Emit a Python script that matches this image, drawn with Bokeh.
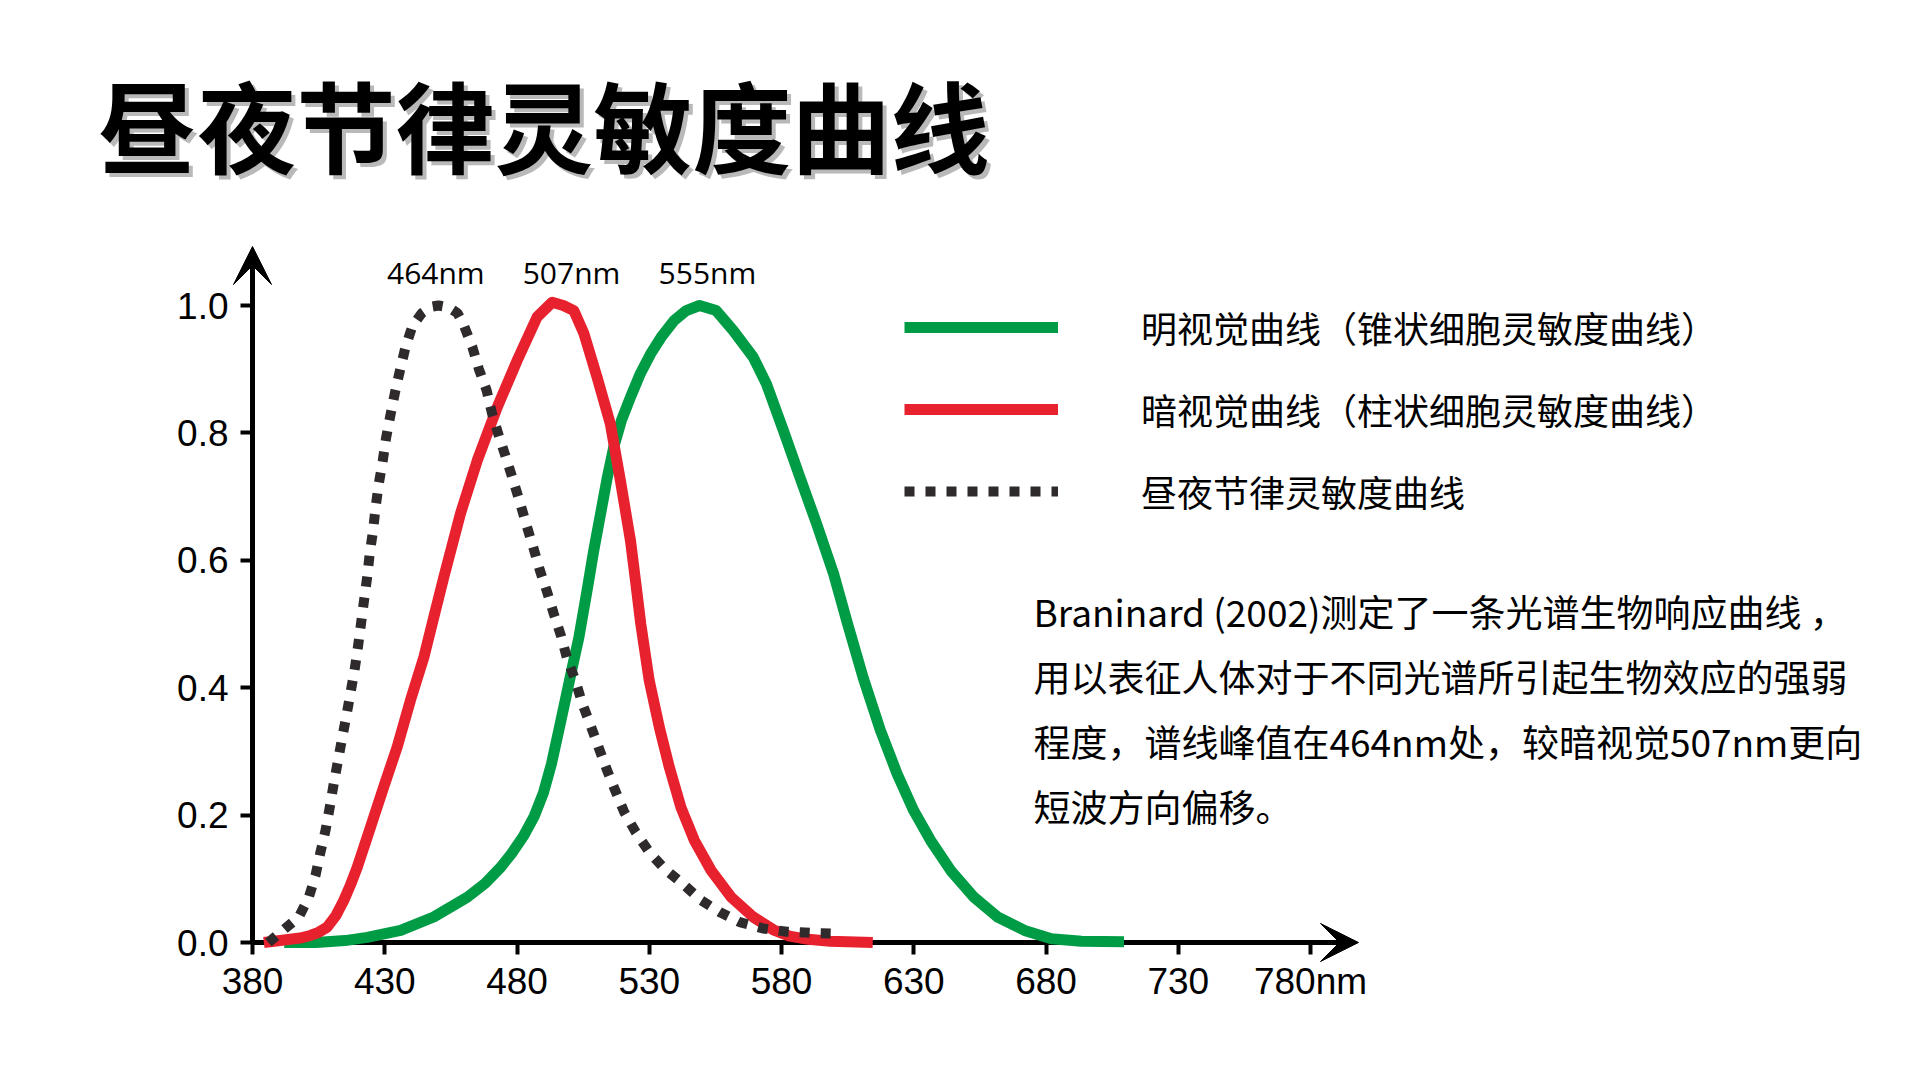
from bokeh.plotting import figure
from bokeh.models import Range1d, FixedTicker, Label, Legend, LegendItem, Arrow, VeeHead
from bokeh.embed import file_html
from bokeh.resources import INLINE

# ---------------- data ----------------
title_text = "昼夜节律灵敏度曲线"

wavelength_ticks = [380, 430, 480, 530, 580, 630, 680, 730, 780]
wavelength_tick_labels = ["380", "430", "480", "530", "580", "630", "680", "730", "780nm"]
sensitivity_ticks = [0.0, 0.2, 0.4, 0.6, 0.8, 1.0]
sensitivity_tick_labels = ["0.0", "0.2", "0.4", "0.6", "0.8", "1.0"]

# photopic (cone) curve - green
photopic_x = [392, 404, 415, 423.4, 436, 448.5, 461.2, 468, 473.8, 478, 482.6, 486.5, 490,
              493, 495.8, 498.5, 500.8, 503.4, 506.5, 509, 511.6, 514, 516.6, 519.5, 522.9,
              526.5, 530.5, 534.8, 539.3, 544, 549, 555.3, 561.7, 569.3, 574.3, 580.7, 587,
              593.3, 599.7, 605, 611, 617.4, 623.7, 630, 636.4, 644, 652.8, 661.7, 671.9,
              682, 693.4, 709.5]
photopic_y = [0.0, 0.0, 0.003, 0.008, 0.019, 0.04, 0.071, 0.093, 0.118, 0.14, 0.168, 0.198,
              0.235, 0.28, 0.333, 0.385, 0.43, 0.479, 0.553, 0.615, 0.673, 0.727, 0.778, 0.82,
              0.856, 0.892, 0.924, 0.952, 0.976, 0.992, 1.0, 0.992, 0.961, 0.919, 0.877, 0.804,
              0.73, 0.657, 0.579, 0.5, 0.414, 0.333, 0.265, 0.207, 0.16, 0.113, 0.071, 0.04,
              0.019, 0.006, 0.002, 0.001]

# scotopic (rod) curve - red
scotopic_x = [384.3, 392, 398, 401.9, 405, 408.2, 411.5, 414.5, 417, 419.6, 424.6, 429.6,
              434.7, 439.7, 444.8, 448.5, 452.3, 458.6, 465, 472.5, 480.1, 487.6, 493.3,
              497.5, 501.5, 505.3, 510.3, 515.3, 519.1, 522.9, 524.8, 526.8, 530, 533.8,
              537.6, 542, 547.1, 553.4, 561, 569.3, 576.9, 583, 590, 598.4, 614.5]
scotopic_y = [0.0, 0.004, 0.007, 0.011, 0.016, 0.024, 0.042, 0.066, 0.09, 0.118, 0.181, 0.244,
              0.307, 0.38, 0.448, 0.51, 0.573, 0.673, 0.757, 0.84, 0.914, 0.982, 1.005, 1.0,
              0.992, 0.956, 0.887, 0.814, 0.725, 0.631, 0.568, 0.5, 0.411, 0.338, 0.275, 0.212,
              0.16, 0.113, 0.071, 0.04, 0.02, 0.01, 0.005, 0.002, 0.0]

# circadian sensitivity curve - dotted
circadian_x = [386, 390.6, 397.5, 401.3, 403.8, 405.7, 407.6, 409.2, 410.7, 412.3, 413.9,
               415.5, 417.1, 418.6, 419.9, 421.1, 422.2, 423.4, 424.3, 425.6, 426.5, 427.7,
               429.2, 430.5, 432.1, 433.8, 435.8, 437.8, 440.4, 444, 447.5, 450.3, 454.2,
               457.5, 459.9, 463.1, 465.6, 468.5, 470.6, 473.1, 476, 478.6, 481.1, 483.6,
               486.1, 488.6, 491.4, 493.9, 496.6, 499, 502.1, 504.7, 507.8, 510.8, 513.8,
               517.1, 520.5, 524.9, 530, 535.7, 542.7, 549.7, 556.6, 564.2, 573, 582, 591.4,
               601]
circadian_y = [0.0, 0.016, 0.04, 0.071, 0.105, 0.142, 0.176, 0.212, 0.249, 0.285, 0.321, 0.356,
               0.393, 0.428, 0.465, 0.503, 0.538, 0.575, 0.61, 0.647, 0.682, 0.719, 0.755,
               0.792, 0.827, 0.862, 0.899, 0.934, 0.967, 0.988, 0.998, 1.0, 0.997, 0.988, 0.969,
               0.935, 0.9, 0.867, 0.83, 0.796, 0.759, 0.725, 0.691, 0.655, 0.621, 0.585, 0.55,
               0.516, 0.482, 0.445, 0.411, 0.375, 0.341, 0.307, 0.273, 0.239, 0.205, 0.173,
               0.142, 0.116, 0.092, 0.066, 0.048, 0.032, 0.022, 0.017, 0.015, 0.014]

peak_labels = ["464nm", "507nm", "555nm"]
legend_labels = ["明视觉曲线（锥状细胞灵敏度曲线）",
                 "暗视觉曲线（柱状细胞灵敏度曲线）",
                 "昼夜节律灵敏度曲线"]
note_lines = ["Braninard  (2002)测定了一条光谱生物响应曲线 ，",
              "用以表征人体对于不同光谱所引起生物效应的强弱",
              "程度，谱线峰值在464nm处，较暗视觉507nm更向",
              "短波方向偏移。"]

# ---------------- layout ----------------
# The frame covers the whole canvas; axes are pinned at wavelength 380 / sensitivity 0.
W, H = 1920, 1080
AX_X, AX_Y = 252, 942          # canvas pixel position of the axes' origin
PX_PER_NM = 2.645
PX_PER_UNIT = 637.0
X_ORIGIN, Y_ORIGIN = 380.0, 0.0


def px_x(X):
    return X_ORIGIN + (X - AX_X) / PX_PER_NM


def px_y(Y):
    return Y_ORIGIN + (AX_Y - Y) / PX_PER_UNIT


GREEN = "#009B45"
RED = "#E8212E"
DARK = "#2F2A2C"
CJK = "Noto Sans CJK SC"

p = figure(width=W, height=H, output_backend="svg", toolbar_location=None,
           x_range=Range1d(px_x(0), px_x(W)), y_range=Range1d(px_y(H), px_y(0)),
           min_border=0, min_border_left=0, min_border_right=0,
           min_border_top=0, min_border_bottom=0,
           background_fill_color="white", border_fill_color="white",
           outline_line_color=None)
p.title.visible = False
p.grid.visible = False

for ax in (p.xaxis[0], p.yaxis[0]):
    ax.axis_line_color = None
    ax.major_tick_line_width = 4
    ax.major_tick_line_color = "black"
    ax.major_tick_out = 12
    ax.major_tick_in = 0
    ax.minor_tick_line_color = None
    ax.major_label_text_font = "Liberation Sans"
    ax.major_label_text_font_size = "37px"
    ax.major_label_text_color = "black"

p.xaxis.fixed_location = Y_ORIGIN
p.yaxis.fixed_location = X_ORIGIN
p.xaxis.ticker = FixedTicker(ticks=wavelength_ticks)
p.xaxis.major_label_overrides = dict(zip(wavelength_ticks, wavelength_tick_labels))
p.xaxis.major_label_standoff = 6
p.yaxis.ticker = FixedTicker(ticks=sensitivity_ticks)
p.yaxis.major_label_overrides = dict(zip(sensitivity_ticks, sensitivity_tick_labels))
p.yaxis.major_label_standoff = 12

# axis lines with arrow heads
p.add_layout(Arrow(end=VeeHead(size=38, fill_color="black", line_color="black", line_width=1),
                   x_start=X_ORIGIN, y_start=Y_ORIGIN, x_end=px_x(1358), y_end=Y_ORIGIN,
                   line_width=5, line_color="black"))
p.add_layout(Arrow(end=VeeHead(size=38, fill_color="black", line_color="black", line_width=1),
                   x_start=X_ORIGIN, y_start=Y_ORIGIN, x_end=X_ORIGIN, y_end=px_y(246),
                   line_width=5, line_color="black"))

# curves (drawn above the axes like the reference)
r_green = p.line(photopic_x, photopic_y, line_color=GREEN, line_width=11,
                 line_join="round", line_cap="butt", level="overlay")
r_red = p.line(scotopic_x, scotopic_y, line_color=RED, line_width=11,
               line_join="round", line_cap="butt", level="overlay")
r_dot = p.line(circadian_x, circadian_y, line_color=DARK, line_width=10,
               line_dash="10 11", line_cap="butt", level="overlay")

# peak labels
peak_pos = [449.3, 500.6, 552.0]
for lab, xp in zip(peak_labels, peak_pos):
    p.add_layout(Label(x=xp, y=px_y(272), text=lab, text_font="Open Sans",
                       text_font_size="30px", text_color="black",
                       text_align="center", text_baseline="middle"))

# legend
legend = Legend(items=[LegendItem(label=legend_labels[0], renderers=[r_green]),
                       LegendItem(label=legend_labels[1], renderers=[r_red]),
                       LegendItem(label=legend_labels[2], renderers=[r_dot])],
                location=(904, H - 519), orientation="vertical",
                glyph_width=154, glyph_height=56, label_height=56,
                label_standoff=83, spacing=26, padding=0, margin=0,
                border_line_color=None, background_fill_alpha=0,
                label_text_font=CJK, label_text_font_size="36px",
                label_text_color="black")
p.add_layout(legend)

# description text
note_y = [610, 675, 740, 805]
for line, yy in zip(note_lines, note_y):
    p.add_layout(Label(x=px_x(1033), y=px_y(yy), text=line, text_font=CJK,
                       text_font_size="37px", text_color="black",
                       text_align="left", text_baseline="middle"))

# title with drop shadow
p.add_layout(Label(x=px_x(98), y=px_y(122), x_offset=4, y_offset=-4, text=title_text,
                   text_font=CJK, text_font_style="bold", text_font_size="99px",
                   text_color="#808080", text_alpha=0.55,
                   text_align="left", text_baseline="middle"))
p.add_layout(Label(x=px_x(98), y=px_y(122), text=title_text,
                   text_font=CJK, text_font_style="bold", text_font_size="99px",
                   text_color="black", text_align="left", text_baseline="middle"))

open("out.html", "w").write(file_html(p, INLINE))
